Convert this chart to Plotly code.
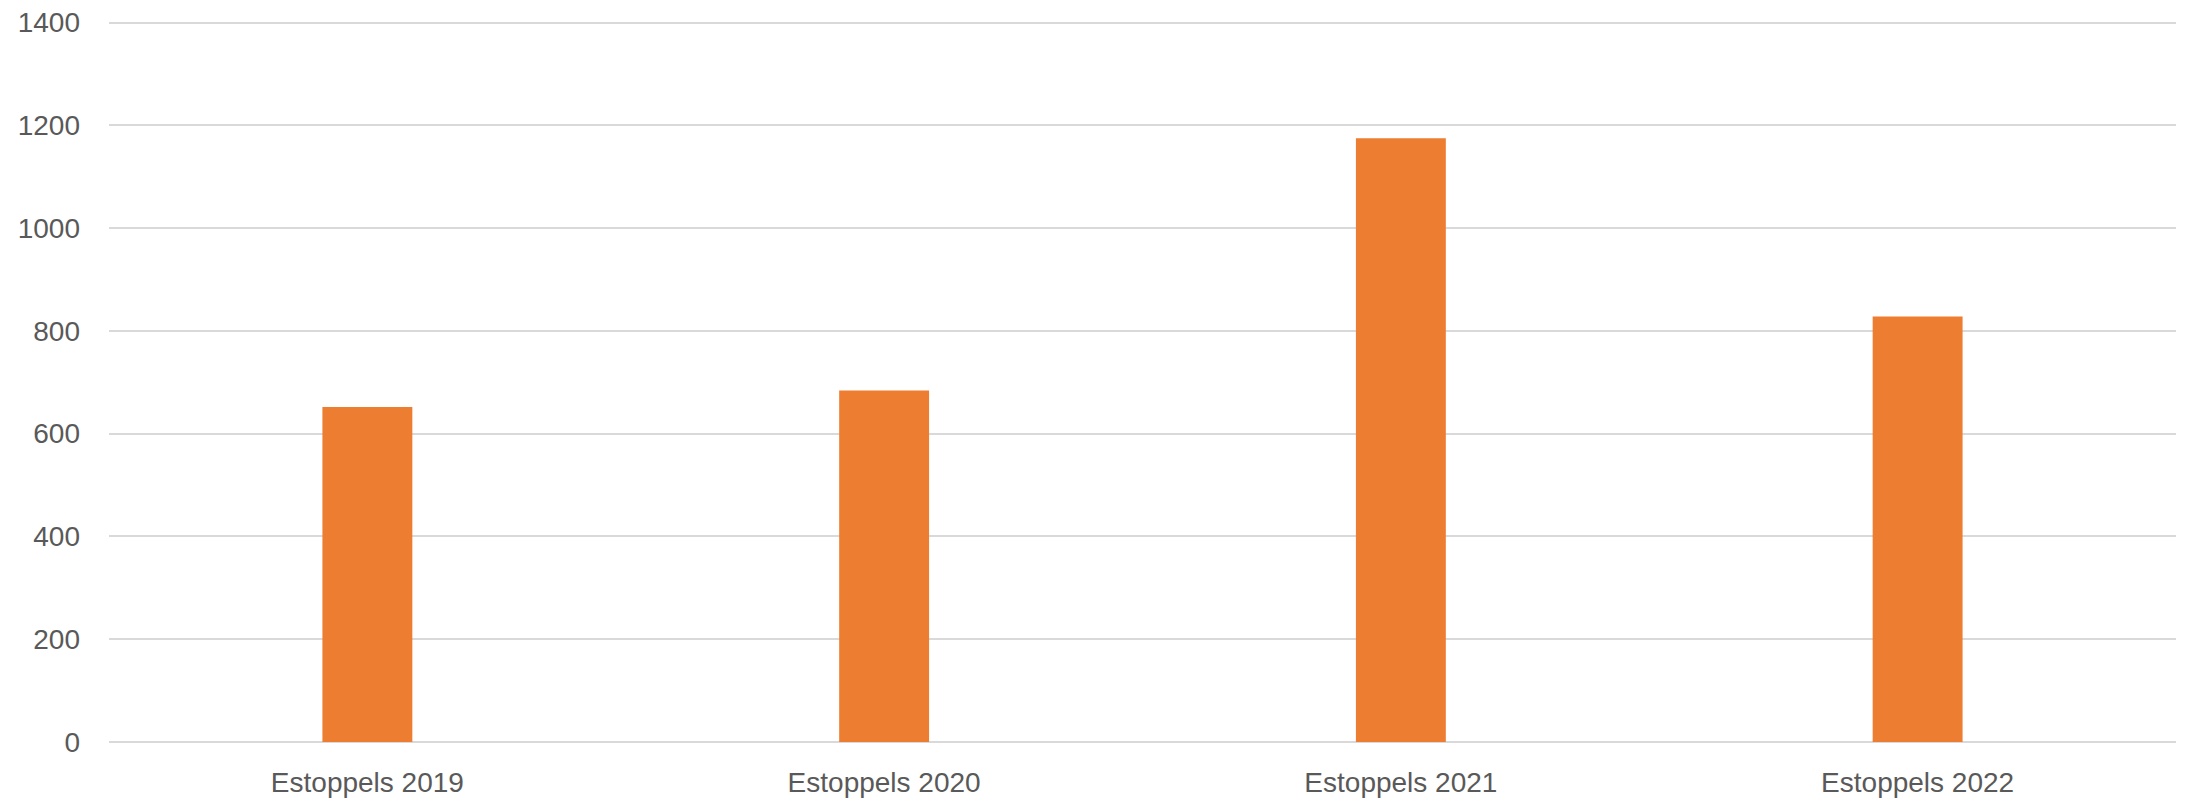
import plotly.graph_objects as go

categories = ["Estoppels 2019", "Estoppels 2020", "Estoppels 2021", "Estoppels 2022"]
values = [652, 684, 1175, 828]
y_ticks = [0, 200, 400, 600, 800, 1000, 1200, 1400]

fig = go.Figure(go.Bar(x=categories, y=values, marker=dict(color="#ED7D31", line=dict(width=0))))

fig.update_layout(
    width=2190, height=803,
    margin=dict(l=109, r=14, t=20, b=61),
    paper_bgcolor="white", plot_bgcolor="white",
    bargap=0.826,
    showlegend=False,
    font=dict(family="Liberation Sans", size=28, color="#595959"),
)
fig.update_xaxes(showgrid=False, showline=False, ticks="", ticklabelstandoff=21, automargin=False)
fig.update_yaxes(range=[0, 1405], tickvals=y_ticks, showgrid=True, gridcolor="#d9d9d9", gridwidth=2,
                 zeroline=True, zerolinecolor="#d9d9d9", zerolinewidth=2, ticks="", ticklabelstandoff=28,
                 automargin=False)

fig.write_html("out.html")
